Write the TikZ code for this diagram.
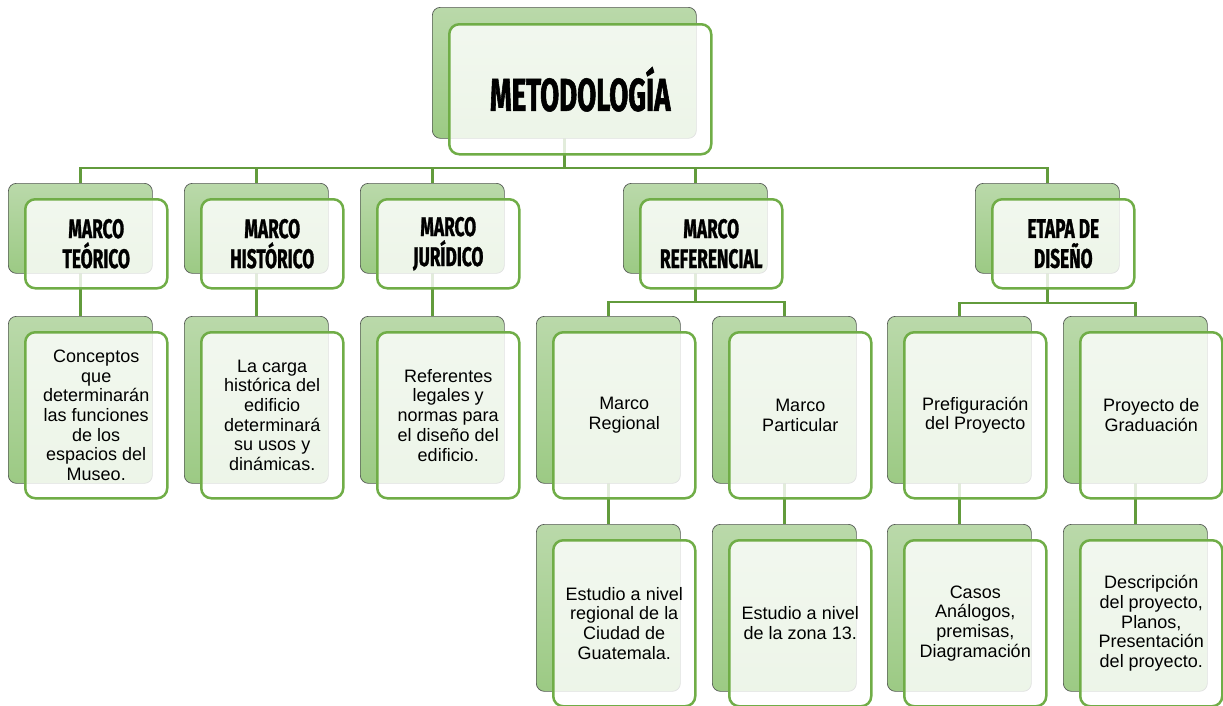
\documentclass[tikz,border=0pt]{standalone}
\usepackage{fontspec}
\setmainfont{Liberation Sans}
\newfontfamily\headfont[FakeStretch=0.6, FakeBold=1.2]{Fira Sans}
\newfontfamily\subheadfont[FakeStretch=0.64, FakeBold=1.0]{Fira Sans}
\usetikzlibrary{backgrounds}
\definecolor{bordergreen}{RGB}{112,173,71}
\definecolor{linegreen}{RGB}{98,155,60}
\definecolor{backtop}{RGB}{186,217,170}
\definecolor{backbot}{RGB}{156,202,132}
\definecolor{backline}{RGB}{85,90,85}
\tikzset{
  backbox/.style={rectangle, rounded corners=8pt, draw=backline, line width=0.7pt,
    top color=backtop, bottom color=backbot, inner sep=0pt},
  frontbox/.style={rectangle, rounded corners=10pt, draw=bordergreen, line width=2.5pt,
    fill=white, fill opacity=0.82, text opacity=1, draw opacity=1, inner sep=0pt, align=center},
  headtext/.style={font=\subheadfont\bfseries\fontsize{27}{30}\selectfont},
  bodytext/.style={font=\fontsize{18}{19.7}\selectfont},
  conn/.style={draw=linegreen, line width=2.5pt},
}
\newcommand\mkpair[7]{%
  \node[backbox, minimum width=#4, minimum height=#5, anchor=north west] (#1b) at (#2,#3) {};
  \node[frontbox, minimum width=#4-2, minimum height=#5-1, anchor=north west, #6] (#1) at (#2+16,#3+15) {#7};
}
\begin{document}
\begin{tikzpicture}[x=1pt,y=-1pt]
\useasboundingbox (0,0) rectangle (1223,705);
% top
\node[backbox, minimum width=264, minimum height=131, anchor=north west] (metb) at (432,7) {};
\node[frontbox, minimum width=262, minimum height=130, anchor=north west,
  font=\headfont\bfseries\fontsize{46}{50}\selectfont] (met) at (448,23) {METODOLOGÍA};
% level 2
\mkpair{mt}{8}{183}{144}{90}{headtext}{MARCO\\TEÓRICO}
\mkpair{mh}{184}{183}{144}{90}{headtext}{MARCO\\HISTÓRICO}
\mkpair{mj}{360}{183}{144}{90}{headtext}{MARCO\\JURÍDICO}
\mkpair{mr}{623}{183}{144}{90}{headtext}{MARCO\\REFERENCIAL}
\mkpair{ed}{975}{183}{144}{90}{headtext}{ETAPA DE\\DISEÑO}
% level 3
\mkpair{ct}{8}{316}{144}{167}{bodytext}{Conceptos\\que\\determinarán\\las funciones\\de los\\espacios del\\Museo.}
\mkpair{ch}{184}{316}{144}{167}{bodytext}{La carga\\histórica del\\edificio\\determinará\\su usos y\\dinámicas.}
\mkpair{cj}{360}{316}{144}{167}{bodytext}{Referentes\\legales y\\normas para\\el diseño del\\edificio.}
\mkpair{rg}{536}{316}{144}{167}{bodytext}{Marco\\Regional}
\mkpair{rp}{712}{316}{144}{167}{bodytext}{Marco\\Particular}
\mkpair{pf}{887}{316}{144}{167}{bodytext}{Prefiguración\\del Proyecto}
\mkpair{pg}{1063}{316}{144}{167}{bodytext}{Proyecto de\\Graduación}
% level 4
\mkpair{er}{536}{524}{144}{167}{bodytext}{Estudio a nivel\\regional de la\\Ciudad de\\Guatemala.}
\mkpair{ep}{712}{524}{144}{167}{bodytext}{Estudio a nivel\\de la zona 13.}
\mkpair{ca}{887}{524}{144}{167}{bodytext}{Casos\\Análogos,\\premisas,\\Diagramación}
\mkpair{dp}{1063}{524}{144}{167}{bodytext}{Descripción\\del proyecto,\\Planos,\\Presentación\\del proyecto.}
% connectors
\coordinate (bus) at (0,168);
\coordinate (busr) at (0,302);
\coordinate (buse) at (0,303);
\begin{pgfonlayer}{background}
  \draw[conn] (metb.center) -- (metb.center |- bus);
  \foreach \c in {mt,mh,mj,mr,ed} {\draw[conn] (\c b.north) |- (metb.center |- bus);}
  \draw[conn] (mtb.center) -- (ctb.north);
  \draw[conn] (mhb.center) -- (chb.north);
  \draw[conn] (mjb.center) -- (cjb.north);
  \draw[conn] (mrb.center) -- (mrb.center |- busr);
  \draw[conn] (rgb.north) |- (mrb.center |- busr);
  \draw[conn] (rpb.north) |- (mrb.center |- busr);
  \draw[conn] (edb.center) -- (edb.center |- buse);
  \draw[conn] (pfb.north) |- (edb.center |- buse);
  \draw[conn] (pgb.north) |- (edb.center |- buse);
  \draw[conn] (rgb.center) -- (erb.north);
  \draw[conn] (rpb.center) -- (epb.north);
  \draw[conn] (pfb.center) -- (cab.north);
  \draw[conn] (pgb.center) -- (dpb.north);
\end{pgfonlayer}
\end{tikzpicture}
\end{document}
